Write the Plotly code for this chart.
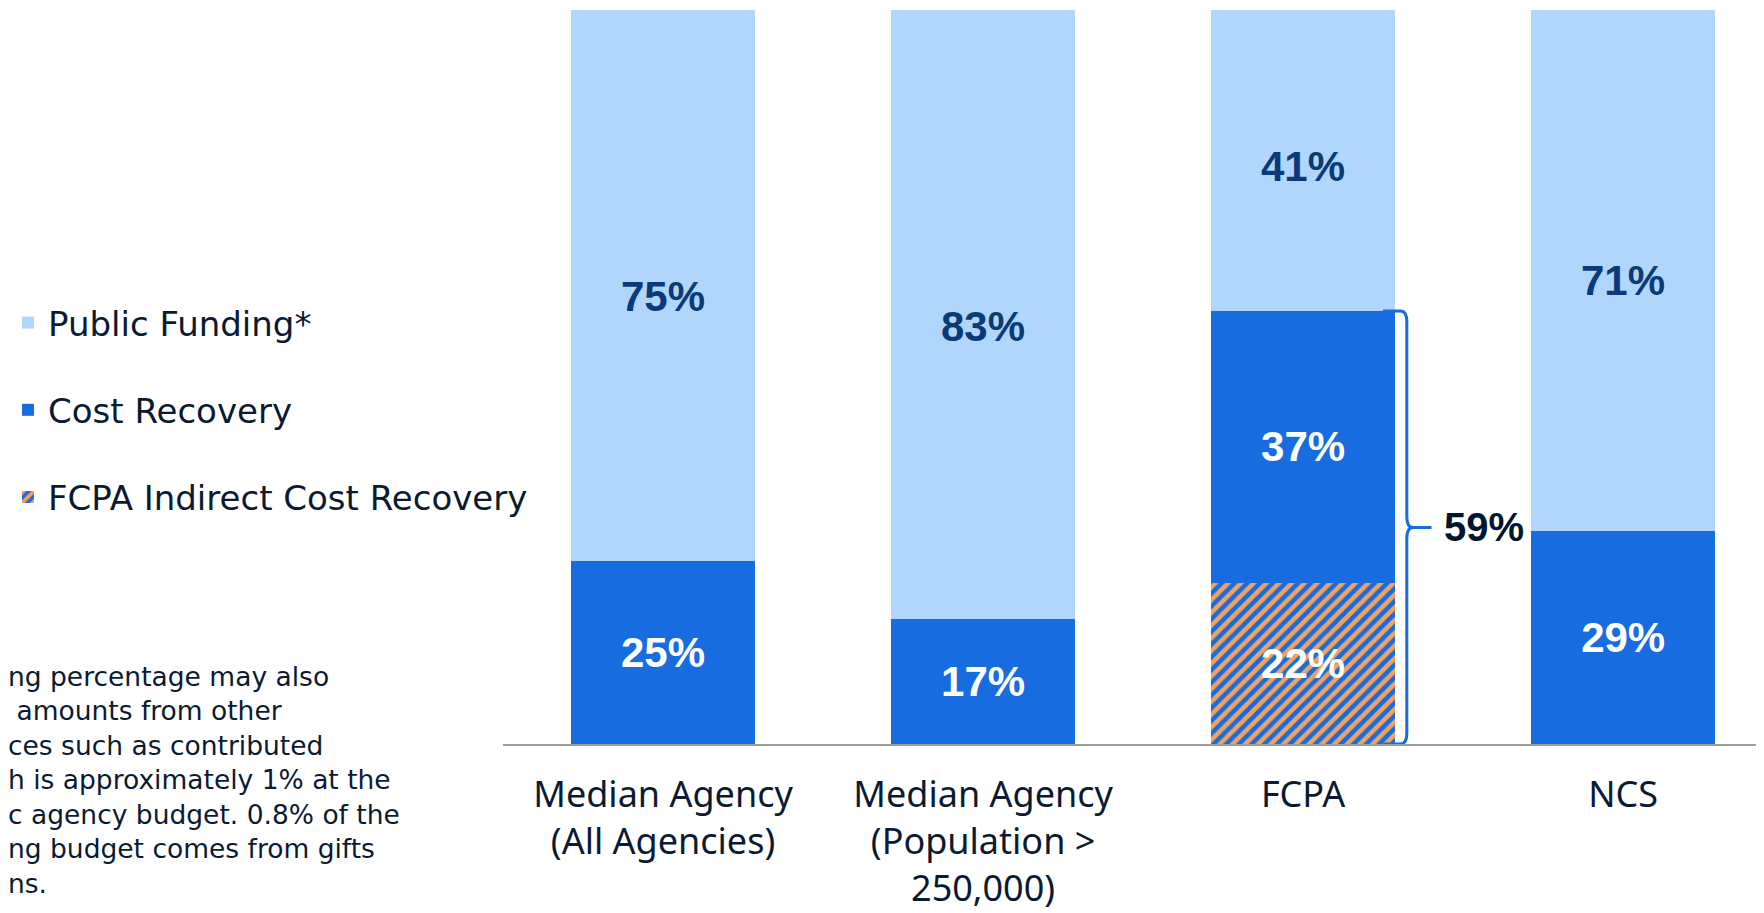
import plotly.graph_objects as go

categories = ["Median Agency<br>(All Agencies)", "Median Agency<br>(Population ><br>250,000)", "FCPA", "NCS"]
public_funding = [75, 83, 41, 71]
cost_recovery = [25, 17, 37, 29]
fcpa_indirect = [None, None, 22, None]
bracket_label = "59%"

LIGHT = "#B0D6FC"
DARK = "#176CDF"
ORANGE = "#F2A25C"
NAVY_TXT = "#0B3A78"
INK = "#0A1A33"
LABEL_FONT = dict(family="Liberation Sans", size=42, weight="bold")

x = list(range(len(categories)))

def lbl(vals):
    return [f"{v}%" if v else "" for v in vals]

fig = go.Figure()
fig.add_trace(go.Bar(
    x=x, y=fcpa_indirect, name="FCPA Indirect Cost Recovery", legendgroup="c", legendrank=3,
    marker=dict(color=DARK, line=dict(width=0),
                pattern=dict(shape="/", fgcolor=ORANGE, bgcolor=DARK, size=9, solidity=0.5, fillmode="replace")),
    text=lbl(fcpa_indirect), textposition="inside", insidetextanchor="middle",
    textfont=dict(color="white", **LABEL_FONT),
))
fig.add_trace(go.Bar(
    x=x, y=cost_recovery, name="Cost Recovery", legendgroup="b", legendrank=2,
    marker=dict(color=DARK, line=dict(width=0)),
    text=lbl(cost_recovery), textposition="inside", insidetextanchor="middle",
    textfont=dict(color="white", **LABEL_FONT),
))
fig.add_trace(go.Bar(
    x=x, y=public_funding, name="Public Funding*", legendgroup="a", legendrank=1,
    marker=dict(color=LIGHT, line=dict(width=0)),
))

# labels of the public funding segments, placed slightly below segment centre
for i, v in enumerate(public_funding):
    base = cost_recovery[i] + (fcpa_indirect[i] or 0)
    fig.add_annotation(x=x[i], y=base + 0.48 * v, xref="x", yref="y", text=f"{v}%",
                       showarrow=False, xanchor="center", yanchor="middle",
                       font=dict(color=NAVY_TXT, **LABEL_FONT))

# bracket around FCPA cost recovery (data-derived)
top = cost_recovery[2] + fcpa_indirect[2]
mid = top / 2
xs, xv, xt = 2.249, 2.324, 2.401
r = 1.5
path = (f"M {xs},{top} L {xv-0.02},{top} Q {xv},{top} {xv},{top-r} L {xv},{mid+r} "
        f"Q {xv},{mid} {xv+0.02},{mid} L {xt},{mid} M {xv+0.02},{mid} Q {xv},{mid} {xv},{mid-r} "
        f"L {xv},{r} Q {xv},0 {xv-0.02},0 L {xs},0")
fig.add_shape(type="path", path=path, xref="x", yref="y", line=dict(color=DARK, width=3))
fig.add_annotation(x=2.433, y=mid, xref="x", yref="y", text=bracket_label, showarrow=False,
                   xanchor="left", yanchor="middle",
                   font=dict(family="Liberation Sans", size=40, color="#00152E", weight="bold"))

footnote = ["ng percentage may also", "\u00a0amounts from other", "ces such as contributed",
            "h is approximately 1% at the", "c agency budget. 0.8% of the",
            "ng budget comes from gifts", "ns."]
fig.add_annotation(x=-0.3945, y=-0.0484, xref="paper", yref="paper", text="<br>".join(footnote),
                   showarrow=False, xanchor="left", yanchor="middle", align="left",
                   font=dict(family="DejaVu Sans", size=26.5, color=INK))

fig.update_layout(
    width=1756, height=905,
    margin=dict(l=495, r=0, t=2, b=169, autoexpand=False),
    barmode="stack", bargap=0.427,
    plot_bgcolor="white", paper_bgcolor="white",
    legend=dict(xref="container", yref="container", x=0.0, y=0.5558, yanchor="middle", xanchor="left",
                traceorder="grouped", tracegroupgap=40,
                font=dict(family="DejaVu Sans", size=34, color=INK)),
    xaxis=dict(tickmode="array", tickvals=x, ticktext=categories, range=[-0.5, 3.44],
               showline=True, linecolor="#9E9E9E", linewidth=2, showgrid=False, zeroline=False,
               ticks="", ticklabelstandoff=18, automargin=False,
               tickfont=dict(family="Noto Sans", size=36, color=INK)),
    yaxis=dict(range=[0, 100], visible=False, automargin=False),
)
fig.write_html("out.html")
